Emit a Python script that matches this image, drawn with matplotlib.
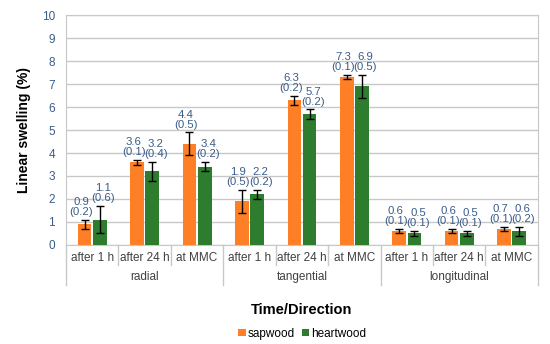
import matplotlib.pyplot as plt
import numpy as np

plt.rcParams['font.family'] = ['Liberation Sans', 'DejaVu Sans']

# data
times = ["after 1 h", "after 24 h", "at MMC"] * 3
directions = ["radial", "tangential", "longitudinal"]
sapwood = [0.9, 3.6, 4.4, 1.9, 6.3, 7.3, 0.6, 0.6, 0.7]
sapwood_sd = [0.2, 0.1, 0.5, 0.5, 0.2, 0.1, 0.1, 0.1, 0.1]
heartwood = [1.1, 3.2, 3.4, 2.2, 5.7, 6.9, 0.5, 0.5, 0.6]
heartwood_sd = [0.6, 0.4, 0.2, 0.2, 0.2, 0.5, 0.1, 0.1, 0.2]

orange = "#FF7F27"
green = "#2E7D2E"
txt = "#3A5C8A"

fig = plt.figure(figsize=(5.5, 3.44), dpi=100)
ax = fig.add_axes([0.12, 0.288, 0.858, 0.668])

x = np.arange(len(times))
w = 0.26
off = 0.145

ax.bar(x - off, sapwood, w, color=orange, label="sapwood", zorder=3)
ax.bar(x + off, heartwood, w, color=green, label="heartwood", zorder=3)
ax.errorbar(x - off, sapwood, yerr=sapwood_sd, fmt="none", ecolor="black",
            elinewidth=1, capsize=3, capthick=1, zorder=4)
ax.errorbar(x + off, heartwood, yerr=heartwood_sd, fmt="none", ecolor="black",
            elinewidth=1, capsize=3, capthick=1, zorder=4)

# value (sd) labels, nudged outward like the original
for xi, v, s in zip(x - off, sapwood, sapwood_sd):
    ax.annotate("%.1f\n(%.1f)" % (v, s), (xi, v + s), xytext=(-2.5, 2),
                textcoords="offset points", ha="center", va="bottom",
                fontsize=8.2, color=txt, linespacing=1.0, zorder=5)
for xi, v, s in zip(x + off, heartwood, heartwood_sd):
    ax.annotate("%.1f\n(%.1f)" % (v, s), (xi, v + s), xytext=(2.5, 2),
                textcoords="offset points", ha="center", va="bottom",
                fontsize=8.2, color=txt, linespacing=1.0, zorder=5)

ax.set_xlim(-0.5, len(times) - 0.5)
ax.set_ylim(0, 10)
ax.set_yticks(range(0, 11))
ax.tick_params(axis="y", length=0, labelsize=8.5, labelcolor=txt, pad=8)
ax.grid(axis="y", color="#C8C8C8", linewidth=1, zorder=0)
for sp in ax.spines.values():
    sp.set_color("#C8C8C8")

# two-level category axis
ax.set_xticks([])
trans = ax.get_xaxis_transform()
for i, t in enumerate(times):
    ax.text(i, -0.055, t, transform=trans, ha="center", va="center",
            fontsize=8.5, color="#404040")
for i in range(len(times) + 1):
    bottom = -0.174 if i % 3 == 0 else -0.087
    ax.plot([i - 0.5, i - 0.5], [0, bottom], transform=trans, color="#C8C8C8",
            linewidth=1, clip_on=False)
for g, d in enumerate(directions):
    ax.text(g * 3 + 1, -0.14, d, transform=trans, ha="center", va="center",
            fontsize=8.5, color="#404040")

ax.set_ylabel("Linear swelling (%)", fontsize=10, fontweight="bold", labelpad=8)
ax.text(0.5, -0.283, "Time/Direction", transform=ax.transAxes, ha="center",
        va="center", fontsize=10.5, fontweight="bold")

fig.legend(loc="center", bbox_to_anchor=(0.55, 0.03), ncol=2, frameon=False,
           fontsize=8.5, handlelength=0.6, handleheight=0.6, handletextpad=0.2,
           columnspacing=0.6)

fig.savefig("out.png", dpi=100)
